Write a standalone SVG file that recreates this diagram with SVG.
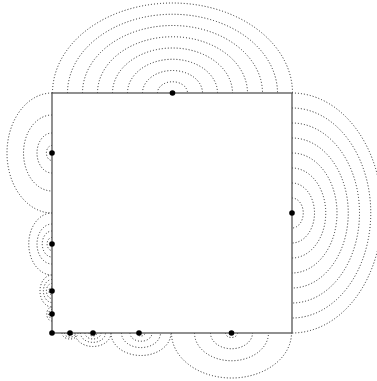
<svg xmlns="http://www.w3.org/2000/svg" width="377" height="381" viewBox="0 0 377 381">
<style>
.arc{fill:none;stroke:#222;stroke-width:1;stroke-dasharray:1 2}
.dot{fill:#000}
.edge{fill:none;stroke:#555;stroke-width:1.3}
</style>
<rect width="377" height="381" fill="#fff"/>
<g id="connectors">
<!-- top -->
<path class="arc" d="M157.5,93 A15,11.25 0 0 1 187.5,93"/>
<path class="arc" d="M142.5,93 A30,22.5 0 0 1 202.5,93"/>
<path class="arc" d="M127.5,93 A45,33.75 0 0 1 217.5,93"/>
<path class="arc" d="M112.5,93 A60,45 0 0 1 232.5,93"/>
<path class="arc" d="M97.5,93 A75,56.25 0 0 1 247.5,93"/>
<path class="arc" d="M82.5,93 A90,67.5 0 0 1 262.5,93"/>
<path class="arc" d="M67.5,93 A105,78.75 0 0 1 277.5,93"/>
<path class="arc" d="M52.5,93 A120,90 0 0 1 292.5,93"/>
<!-- right -->
<path class="arc" d="M292,198 A11.25,15 0 0 1 292,228"/>
<path class="arc" d="M292,183 A22.5,30 0 0 1 292,243"/>
<path class="arc" d="M292,168 A33.75,45 0 0 1 292,258"/>
<path class="arc" d="M292,153 A45,60 0 0 1 292,273"/>
<path class="arc" d="M292,138 A56.25,75 0 0 1 292,288"/>
<path class="arc" d="M292,123 A67.5,90 0 0 1 292,303"/>
<path class="arc" d="M292,108 A78.75,105 0 0 1 292,318"/>
<path class="arc" d="M292,93 A90,120 0 0 1 292,333"/>
<!-- left 153 -->
<path class="arc" d="M52,145.5 A5.6,7.5 0 0 0 52,160.5"/>
<path class="arc" d="M52,133 A15,20 0 0 0 52,173"/>
<path class="arc" d="M52,115 A28.5,38 0 0 0 52,191"/>
<path class="arc" d="M52,93 A45,60 0 0 0 52,213"/>
<!-- left 244 -->
<path class="arc" d="M52,237.5 A4.9,6.5 0 0 0 52,250.5"/>
<path class="arc" d="M52,231 A9.75,13 0 0 0 52,257"/>
<path class="arc" d="M52,224 A15,20 0 0 0 52,264"/>
<path class="arc" d="M52,213 A23.25,31 0 0 0 52,275"/>
<!-- left 291 -->
<path class="arc" d="M52,287 A3,4 0 0 0 52,295"/>
<path class="arc" d="M52,283.5 A5.6,7.5 0 0 0 52,298.5"/>
<path class="arc" d="M52,279.5 A8.6,11.5 0 0 0 52,302.5"/>
<path class="arc" d="M52,275 A12,16 0 0 0 52,307"/>
<!-- left 314 -->
<path class="arc" d="M52,311.5 A1.9,2.5 0 0 0 52,316.5"/>
<path class="arc" d="M52,309.5 A3.4,4.5 0 0 0 52,318.5"/>
<path class="arc" d="M52,307 A5.25,7 0 0 0 52,321"/>
<!-- bottom 70 -->
<path class="arc" d="M67,333 A3,2.25 0 0 0 73,333"/>
<path class="arc" d="M64.5,333 A5.5,4.1 0 0 0 75.5,333"/>
<path class="arc" d="M62,333 A8,6 0 0 0 78,333"/>
<!-- bottom 93 -->
<path class="arc" d="M89,333 A4,3 0 0 0 97,333"/>
<path class="arc" d="M85,333 A8,6 0 0 0 101,333"/>
<path class="arc" d="M80.5,333 A12.5,9.4 0 0 0 105.5,333"/>
<path class="arc" d="M75,333 A18,13.5 0 0 0 111,333"/>
<!-- bottom 139 -->
<path class="arc" d="M137,333 A4,3 0 0 0 145,333"/>
<path class="arc" d="M130,333 A11,8.25 0 0 0 152,333"/>
<path class="arc" d="M121.5,333 A19.5,14.6 0 0 0 160.5,333"/>
<path class="arc" d="M111,333 A30,22.5 0 0 0 171,333"/>
<!-- bottom 231 -->
<path class="arc" d="M225.5,333 A6,4.5 0 0 0 237.5,333"/>
<path class="arc" d="M210.5,333 A21,15.75 0 0 0 252.5,333"/>
<path class="arc" d="M194.5,333 A37,27.75 0 0 0 268.5,333"/>
<path class="arc" d="M171.5,333 A60,45 0 0 0 291.5,333"/>
</g>
<g id="frame">
<rect class="edge" x="52" y="93" width="240" height="240"/>
</g>
<g id="n1"><circle class="dot" cx="172.5" cy="93" r="2.8"/></g>
<g id="n2"><circle class="dot" cx="292" cy="213" r="2.8"/></g>
<g id="n3"><circle class="dot" cx="52" cy="153" r="2.8"/></g>
<g id="n4"><circle class="dot" cx="52" cy="244" r="2.8"/></g>
<g id="n5"><circle class="dot" cx="52" cy="291" r="2.8"/></g>
<g id="n6"><circle class="dot" cx="52" cy="314" r="2.8"/></g>
<g id="n7"><circle class="dot" cx="52" cy="333" r="2.8"/></g>
<g id="n8"><circle class="dot" cx="70" cy="333" r="2.8"/></g>
<g id="n9"><circle class="dot" cx="93" cy="333" r="2.8"/></g>
<g id="n10"><circle class="dot" cx="139" cy="333" r="2.8"/></g>
<g id="n11"><circle class="dot" cx="231.5" cy="333" r="2.8"/></g>
</svg>
